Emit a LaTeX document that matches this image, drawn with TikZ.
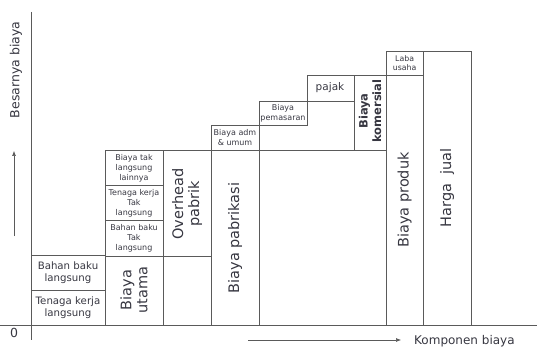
\documentclass[tikz,border=0pt]{standalone}
\usepackage{fontspec}
\setmainfont{DejaVu Sans}
\usepackage{tikz}
\usetikzlibrary{arrows.meta}
\definecolor{LineColor}{RGB}{90,90,90}
\definecolor{TextColor}{RGB}{55,55,65}
\tikzstyle{frame} = [draw=LineColor, line width=0.8pt]
\tikzstyle{axisarrow} = [LineColor, line width=0.6pt, -{Latex[length=5pt,width=4pt]}]
\tikzset{
  label/.style={text=TextColor, align=center, inner sep=1pt, font=\fontsize{10.2}{12}\selectfont},
  tiny label/.style={label, font=\fontsize{8}{10}\selectfont},
  big label/.style={label, rotate=90, font=\fontsize{14.5}{16}\selectfont},
  axis label/.style={label, font=\fontsize{12.5}{14}\selectfont}
}

\begin{document}
\begin{tikzpicture}[x=1pt, y=-1pt]
    \useasboundingbox (0,0) rectangle (537,347);

    % Axes
    \draw[frame] (31,12) -- (31,340);
    \draw[frame] (0,325) -- (537,325);
    \node[axis label] (zero) at (14,333) {0};
    \node[axis label, rotate=90] (ylabel) at (16,70) {Besarnya biaya};
    \coordinate (ytail) at (14,236);
    \coordinate (yhead) at (14,151);
    \draw[axisarrow] (ytail) -- (yhead);
    \node[axis label, anchor=west, font=\fontsize{12}{14}\selectfont] (xlabel) at (413,341) {Komponen biaya};
    \coordinate (xtail) at (248,340);
    \coordinate (xhead) at (401,340);
    \draw[axisarrow] (xtail) -- (xhead);

    % Direct costs
    \draw[frame] (31,255.7) rectangle (105,325);
    \draw[frame] (31,290.7) -- (105,290.7);
    \node[label] (bbl) at (68,273) {Bahan baku\\langsung};
    \node[label] (tkl) at (68,308) {Tenaga kerja\\langsung};

    % Prime cost and indirect costs
    \draw[frame] (105,150.7) rectangle (163,325);
    \draw[frame] (105,185.7) -- (163,185.7);
    \draw[frame] (105,220.7) -- (163,220.7);
    \draw[frame] (105,256) -- (211,256);
    \node[big label] (utama) at (134,290) {Biaya\\utama};
    \node[tiny label] (lain) at (134,168) {Biaya tak\\langsung\\lainnya};
    \node[tiny label] (tktl) at (134,203) {Tenaga kerja\\Tak\\langsung};
    \node[tiny label] (bbtl) at (134,238) {Bahan baku\\Tak\\langsung};

    % Factory overhead
    \draw[frame] (163,150.7) rectangle (211,325);
    \node[big label] (overhead) at (187,204) {Overhead\\pabrik};

    % Manufacturing cost
    \draw[frame] (211,125.7) rectangle (259.3,325);
    \draw[frame] (211,150.7) -- (354.3,150.7);
    \node[tiny label] (adm) at (235,138) {Biaya adm\\\& umum};
    \node[big label] (pabrikasi) at (235,238) {Biaya pabrikasi};

    % Commercial costs
    \draw[frame] (259.3,101) rectangle (307,125.7);
    \node[tiny label] (pemasaran) at (283,113) {Biaya\\pemasaran};
    \draw[frame] (307,75.7) rectangle (354.3,101);
    \node[label, font=\fontsize{10.5}{12}\selectfont] (pajak) at (330,88) {pajak};
    \draw[frame] (354.3,75.7) rectangle (386,150.7);
    \node[label, rotate=90, font=\fontsize{11.5}{13.5}\selectfont\bfseries] (komersial) at (370,111) {Biaya\\komersial};

    % Product cost and selling price
    \draw[frame] (386,51) rectangle (423.3,325);
    \draw[frame] (386,75.7) -- (423.3,75.7);
    \node[tiny label, font=\fontsize{7.8}{9.5}\selectfont] (laba) at (404.6,63) {Laba\\usaha};
    \node[big label] (produk) at (404.6,200) {Biaya produk};
    \draw[frame] (423.3,51) rectangle (471,325);
    \node[big label] (jual) at (447,188) {Harga\ \ jual};
\end{tikzpicture}
\end{document}
